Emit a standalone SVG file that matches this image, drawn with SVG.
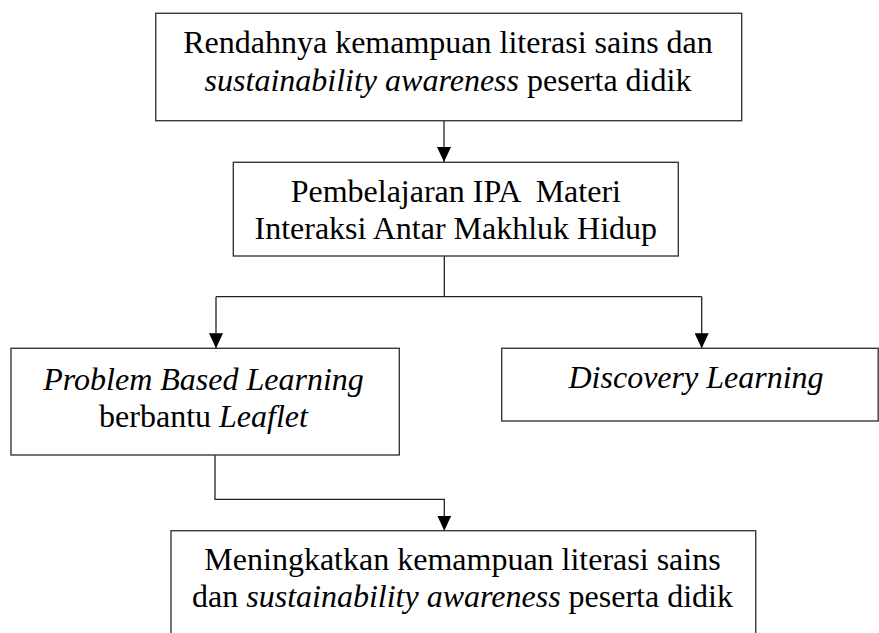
<svg xmlns="http://www.w3.org/2000/svg" width="879" height="633" viewBox="0 0 879 633">
<style>
.box{fill:#fff;stroke:#3a3a3a;stroke-width:1.4}
.t{font-family:"Liberation Serif","Times New Roman",serif;font-size:32px;fill:#000;text-anchor:middle}
.i{font-style:italic}
.c{fill:none;stroke:#222;stroke-width:1.3}
</style>
<defs>
<marker id="ah" viewBox="0 -7 15 14" refX="15" refY="0" markerWidth="15" markerHeight="14" markerUnits="userSpaceOnUse" orient="auto">
<path d="M0,-7 L15,0 L0,7 z" fill="#000"/>
</marker>
</defs>
<rect width="879" height="633" fill="#fff"/>
<g id="connectors">
<path class="c" d="M444,121 V162" marker-end="url(#ah)"/>
<path class="c" d="M444.3,256 V296.7 M216,296.7 H701.7"/>
<path class="c" d="M216,296.7 V348.3" marker-end="url(#ah)"/>
<path class="c" d="M701.7,296.7 V348.3" marker-end="url(#ah)"/>
<path class="c" d="M215,455 V499.3 H444.3 V530.7" marker-end="url(#ah)"/>
</g>
<g id="node1">
<rect class="box" x="155.7" y="13.3" width="586" height="107.4"/>
<text class="t" x="448" y="53">Rendahnya kemampuan literasi sains dan</text>
<text class="t" x="448" y="90.5"><tspan class="i">sustainability awareness</tspan> peserta didik</text>
</g>
<g id="node2">
<rect class="box" x="233.3" y="162.3" width="445" height="93.7"/>
<text class="t" x="455.8" y="201.5" xml:space="preserve" style="white-space:pre">Pembelajaran IPA  Materi</text>
<text class="t" x="455.8" y="239">Interaksi Antar Makhluk Hidup</text>
</g>
<g id="node3">
<rect class="box" x="11" y="348.3" width="388.3" height="106.7"/>
<text class="t i" x="203.5" y="390">Problem Based Learning</text>
<text class="t" x="203.5" y="427">berbantu <tspan class="i">Leaflet</tspan></text>
</g>
<g id="node4">
<rect class="box" x="501.7" y="348.3" width="376.5" height="72.7"/>
<text class="t i" x="696" y="388">Discovery Learning</text>
</g>
<g id="node5">
<rect class="box" x="171" y="530.7" width="584.7" height="110"/>
<text class="t" x="462.5" y="570">Meningkatkan kemampuan literasi sains</text>
<text class="t" x="462.5" y="607">dan <tspan class="i">sustainability awareness</tspan> peserta didik</text>
</g>
</svg>
